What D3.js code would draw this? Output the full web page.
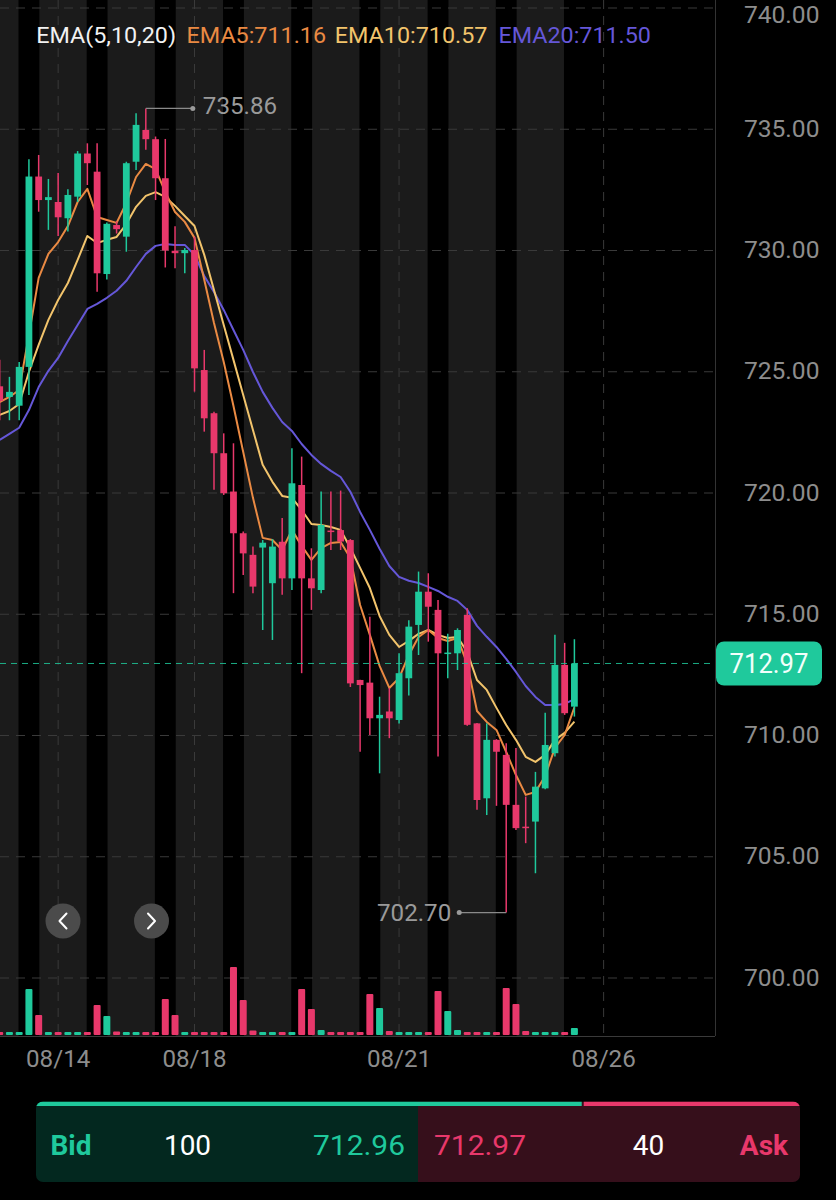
<!DOCTYPE html>
<html><head><meta charset="utf-8">
<script src="https://cdn.jsdelivr.net/npm/d3@7"></script>
<style>
html,body{margin:0;padding:0;background:#000;}
svg{display:block;}
text{font-family:Roboto,"Noto Sans",sans-serif;}
</style></head>
<body>
<svg id="chart" width="836" height="1200"></svg>
<script>
// ---- data (hourly candles) ----
const opens  = [724.40,723.96,723.60,725.20,733.05,732.08,732.00,731.33,732.22,734.00,733.25,729.03,731.05,730.57,733.66,734.97,734.59,732.98,729.99,729.89,730.02,725.07,723.29,721.64,720.06,718.34,717.45,717.75,716.28,717.99,716.48,720.33,716.48,716.00,718.45,718.47,718.06,712.29,712.18,710.71,710.99,710.64,712.36,714.56,715.93,715.18,713.39,713.39,714.97,710.50,707.41,709.82,709.20,707.14,706.24,706.45,707.82,709.27,712.91,711.19];
const highs  = [725.50,724.79,725.40,733.76,733.94,732.95,733.20,732.53,734.10,734.42,734.42,731.15,731.20,733.66,735.66,735.86,734.70,734.60,731.00,730.10,730.57,725.90,723.35,722.46,722.05,718.41,717.79,718.06,718.10,718.97,721.85,721.50,717.72,720.06,720.06,720.10,718.10,712.30,714.90,711.60,711.95,713.39,714.75,716.76,716.69,715.59,714.20,714.42,715.25,710.52,710.50,709.85,709.68,709.48,707.48,708.50,710.94,714.15,713.82,713.97];
const lows   = [723.00,723.00,723.00,724.04,731.60,730.85,730.60,730.78,732.00,732.70,728.30,728.80,730.70,729.95,733.32,734.15,732.08,729.30,729.27,729.06,724.18,722.53,720.13,719.92,715.87,716.62,715.87,714.35,713.94,715.80,716.00,712.57,715.18,715.87,717.65,717.65,712.00,709.33,710.02,708.44,709.89,710.50,711.65,713.32,713.87,709.13,712.36,712.70,710.40,706.94,706.72,707.10,702.70,706.10,705.56,704.32,707.78,709.13,710.85,710.78];
const closes = [723.80,724.17,725.20,733.05,732.08,732.20,731.37,732.29,734.00,733.60,729.06,731.10,730.88,733.60,735.18,734.59,732.98,730.00,729.89,730.02,725.14,723.08,721.64,719.99,718.34,717.51,716.14,717.95,717.79,716.48,720.40,716.48,716.07,718.68,718.40,718.00,712.15,712.08,710.71,710.85,710.71,712.57,714.49,715.93,715.31,713.39,713.42,714.35,710.44,707.34,709.82,709.33,707.14,706.18,706.20,707.89,709.61,712.91,710.92,712.97];
const volumes = [3000,3000,3000,46000,20000,3000,3000,3000,3000,3000,30000,19000,3500,3000,3000,3000,3000,36000,20000,3000,3000,3000,3000,3000,68000,35000,4500,3000,3000,3000,3000,46000,26000,5000,3000,3000,3000,3000,41000,27000,4000,3000,3000,3000,3000,44000,24000,5000,3000,3000,3000,3000,47000,31000,4000,3000,3000,3000,3000,7000];
const ema5  = [723.75,723.96,724.25,726.52,728.87,729.86,730.35,731.01,732.00,732.54,731.38,731.26,731.14,731.96,733.03,733.57,733.36,732.41,731.59,731.18,730.52,728.79,727.01,725.40,723.59,721.69,719.80,718.15,718.06,717.65,718.48,717.82,717.24,717.73,717.94,717.98,717.32,715.38,714.15,712.87,711.96,712.37,713.32,714.06,714.35,714.02,713.90,714.02,712.95,711.01,710.56,710.23,709.32,708.37,707.55,707.67,708.33,709.49,710.02,711.16];
const ema10 = [723.22,723.38,723.67,724.99,726.11,727.14,727.96,728.66,729.61,730.60,730.31,730.44,730.56,731.09,731.80,732.25,732.41,732.21,731.84,731.42,731.01,729.82,728.37,726.93,725.49,724.04,722.60,721.16,720.46,719.88,719.80,719.30,718.72,718.68,718.60,718.48,717.73,716.91,716.08,714.93,714.15,713.65,713.90,714.19,714.35,714.15,714.02,714.06,713.44,712.29,711.88,711.14,710.43,709.82,709.12,708.91,709.20,709.82,710.11,710.57];
const ema20 = [722.19,722.44,722.69,723.42,724.37,725.04,725.57,726.27,726.93,727.59,727.80,728.05,728.34,728.75,729.32,729.86,730.19,730.27,730.23,730.23,729.82,728.95,728.29,727.55,726.72,725.90,724.99,724.17,723.51,722.93,722.56,722.02,721.57,721.20,720.91,720.66,720.05,719.22,718.48,717.70,716.99,716.54,716.38,716.29,716.13,715.96,715.72,715.55,715.18,714.52,714.07,713.65,713.16,712.62,712.04,711.59,711.26,711.26,711.30,711.50];
const sessionOpenIdx = [3,10,17,24,31,38,45,52,59];
const dateTickIdx = [6,20,41,62];
const dateTickLabels = ["08/14","08/18","08/21","08/26"];
const priceTicks = [700,705,710,715,720,725,730,735,740];
const lastPrice = 712.97;
const legendLabels = ["EMA(5,10,20)","EMA5:711.16","EMA10:710.57","EMA20:711.50"];
const bidLabel = "Bid", askLabel = "Ask";
const bidSize = 100, askSize = 40, bidPrice = 712.96, askPrice = 712.97;

// ---- styling ----
const GREEN = "#1fc99c", RED = "#e8386b";
const C_EMA5 = "#ea8a43", C_EMA10 = "#f2c46c", C_EMA20 = "#6557d8";
const PL = 0, PR = 715, PT = 0, PB = 1036;

const svg = d3.select("#chart");
svg.append("rect").attr("width",836).attr("height",1200).attr("fill","#000");

const N = closes.length;
const x = d3.scaleLinear().domain([0, N-1]).range([-0.3, 574.4]);
const y = d3.scaleLinear().domain([700, 740]).range([978, 8]);
const yv = d3.scaleLinear().domain([0, 80000]).range([1035, 955]);

function stext(parent, px, py, str, o) {
  const g = parent.append("g").attr("transform", `translate(${px},${py}) scale(${o.sx||1},1)`);
  return g.append("text").attr("x",0).attr("y",0)
    .attr("text-anchor", o.anchor || "start")
    .attr("font-size", o.size).attr("font-weight", o.weight || 400)
    .attr("fill", o.fill).text(str);
}

const defs = svg.append("defs");
defs.append("clipPath").attr("id","plotclip").append("rect")
  .attr("x",PL).attr("y",PT).attr("width",PR-PL).attr("height",PB-PT);

const plot = svg.append("g").attr("clip-path","url(#plotclip)");

// session stripes
plot.append("rect").attr("x",PL).attr("y",PT).attr("width",PR-PL).attr("height",PB-PT).attr("fill","#1b1b1b");
plot.selectAll("rect.blk").data(sessionOpenIdx).join("rect").attr("class","blk")
  .attr("x", d => x(d - 1.07))
  .attr("width", (d,i) => i === sessionOpenIdx.length-1 ? PR - x(d - 1.07) : x(d + 1.07) - x(d - 1.07))
  .attr("y", PT).attr("height", PB-PT).attr("fill","#000");

// grid
plot.selectAll("line.hg").data(priceTicks).join("line").attr("class","hg")
  .attr("x1",PL).attr("x2",PR).attr("y1",d=>y(d)).attr("y2",d=>y(d))
  .attr("stroke","#3a3a3a").attr("stroke-width",1).attr("stroke-dasharray","9,7");
plot.selectAll("line.vg").data(dateTickIdx).join("line").attr("class","vg")
  .attr("x1",d=>x(d)).attr("x2",d=>x(d)).attr("y1",PT).attr("y2",PB)
  .attr("stroke","#3a3a3a").attr("stroke-width",1).attr("stroke-dasharray","9,7");

// volume
const idx = d3.range(N);
plot.selectAll("rect.vol").data(idx).join("rect").attr("class","vol")
  .attr("x", i => x(i) - 3.5).attr("width", 7)
  .attr("y", i => yv(volumes[i])).attr("height", i => yv(0) - yv(volumes[i]))
  .attr("rx", 1)
  .attr("fill", i => closes[i] >= opens[i] ? GREEN : RED);

// EMA lines
const line = arr => d3.line().x((d,i)=>x(i)).y(d=>y(d))(arr);
[[ema20,C_EMA20],[ema10,C_EMA10],[ema5,C_EMA5]].forEach(([arr,c]) => {
  plot.append("path").attr("d", line(arr)).attr("fill","none")
    .attr("stroke", c).attr("stroke-width", 2).attr("stroke-linejoin","round");
});

// candles
const cg = plot.selectAll("g.c").data(idx).join("g").attr("class","c");
cg.append("line").attr("x1",i=>x(i)).attr("x2",i=>x(i))
  .attr("y1",i=>y(highs[i])).attr("y2",i=>y(lows[i]))
  .attr("stroke", i => closes[i] >= opens[i] ? GREEN : RED).attr("stroke-width",1.5);
cg.append("rect").attr("x", i => x(i) - 3.4).attr("width", 6.8)
  .attr("y", i => y(Math.max(opens[i], closes[i])))
  .attr("height", i => Math.max(1.5, Math.abs(y(opens[i]) - y(closes[i]))))
  .attr("fill", i => closes[i] >= opens[i] ? GREEN : RED);

// last price line
plot.append("line").attr("x1",PL).attr("x2",PR).attr("y1",y(lastPrice)).attr("y2",y(lastPrice))
  .attr("stroke",GREEN).attr("stroke-width",1).attr("stroke-dasharray","6,5").attr("opacity",0.85);

// borders
svg.append("line").attr("x1",PR+0.5).attr("x2",PR+0.5).attr("y1",0).attr("y2",PB).attr("stroke","#333");
svg.append("line").attr("x1",0).attr("x2",PR).attr("y1",PB+0.5).attr("y2",PB+0.5).attr("stroke","#3a3a3a");

// high / low markers
const iH = d3.maxIndex(highs), iL = d3.minIndex(lows);
const mg = svg.append("g");
mg.append("line").attr("x1",x(iH)).attr("x2",x(iH)+47).attr("y1",y(highs[iH])).attr("y2",y(highs[iH])).attr("stroke","#8a8a8a").attr("stroke-width",1.2);
mg.append("circle").attr("cx",x(iH)+47).attr("cy",y(highs[iH])).attr("r",2.5).attr("fill","#9a9a9a");
stext(mg, x(iH)+57, y(highs[iH])+5.5, highs[iH].toFixed(2), {size:23, fill:"#9a9a9a", sx:1.05});
mg.append("line").attr("x1",x(iL)).attr("x2",x(iL)-47).attr("y1",y(lows[iL])).attr("y2",y(lows[iL])).attr("stroke","#8a8a8a").attr("stroke-width",1.2);
mg.append("circle").attr("cx",x(iL)-47).attr("cy",y(lows[iL])).attr("r",2.5).attr("fill","#9a9a9a");
stext(mg, x(iL)-55, y(lows[iL])+8, lows[iL].toFixed(2), {size:23, fill:"#9a9a9a", sx:1.05, anchor:"end"});

// y axis labels (top one kept just inside the picture)
priceTicks.forEach(v => stext(svg, 819.5, Math.max(23, y(v)+7.5), v.toFixed(2), {size:23, fill:"#8d8d8d", sx:1.07, anchor:"end"}));

// date labels
dateTickIdx.forEach((d,i) => stext(svg, x(d), 1066.5, dateTickLabels[i], {size:23, fill:"#8d8d8d", sx:1.05, anchor:"middle"}));

// last price tag
svg.append("rect").attr("x",716).attr("y",y(lastPrice)-22).attr("width",106).attr("height",44).attr("rx",8).attr("fill",GREEN);
stext(svg, 769, y(lastPrice)+10, lastPrice.toFixed(2), {size:27, fill:"#f2fffb", sx:0.95, anchor:"middle"});

// legend
const legendX = [36.2, 186.6, 334.8, 498.4];
const legendC = ["#f2f2f2", C_EMA5, C_EMA10, C_EMA20];
legendLabels.forEach((t,i) => stext(svg, legendX[i], 42.7, t, {size:21.6, fill:legendC[i], sx:1.08}));

// navigation buttons
[[63,"M66.5,913.5 L59.5,921 L66.5,928.5"],[151.5,"M148,913.5 L155,921 L148,928.5"]].forEach(([cx,p]) => {
  svg.append("circle").attr("cx",cx).attr("cy",921).attr("r",17.5).attr("fill","#4b4b4b");
  svg.append("path").attr("d",p).attr("fill","none").attr("stroke","#fff").attr("stroke-width",2).attr("stroke-linecap","round").attr("stroke-linejoin","round");
});

// bid / ask panel
const bx0 = 36, bx1 = 800, by0 = 1101.5, by1 = 1182;
const split = bx0 + (bx1 - bx0) * bidSize / (bidSize + askSize);
const mid = (bx0 + bx1) / 2;
const pg = svg.append("g");
defs.append("clipPath").attr("id","panelclip").append("rect").attr("x",bx0).attr("y",by0).attr("width",bx1-bx0).attr("height",by1-by0).attr("rx",7);
const pc = pg.append("g").attr("clip-path","url(#panelclip)");
pc.append("rect").attr("x",bx0).attr("y",by0).attr("width",mid-bx0).attr("height",by1-by0).attr("fill","#03281f");
pc.append("rect").attr("x",mid).attr("y",by0).attr("width",bx1-mid).attr("height",by1-by0).attr("fill","#360f1b");
pc.append("rect").attr("x",bx0).attr("y",by0).attr("width",split-bx0).attr("height",4.5).attr("fill",GREEN);
pc.append("rect").attr("x",split+2).attr("y",by0).attr("width",bx1-split-2).attr("height",4.5).attr("fill",RED);
stext(pg, 50.5, 1155, bidLabel, {size:28, fill:GREEN, weight:700});
stext(pg, 187.5, 1155, String(bidSize), {size:28, fill:"#ffffff", anchor:"middle"});
stext(pg, 405, 1155, bidPrice.toFixed(2), {size:28.5, fill:GREEN, anchor:"end", sx:1.05});
stext(pg, 434, 1155, askPrice.toFixed(2), {size:28.5, fill:RED, sx:1.05});
stext(pg, 648.5, 1155, String(askSize), {size:28, fill:"#ffffff", anchor:"middle"});
stext(pg, 788, 1155, askLabel, {size:28, fill:RED, weight:700, anchor:"end"});
</script>
</body></html>
